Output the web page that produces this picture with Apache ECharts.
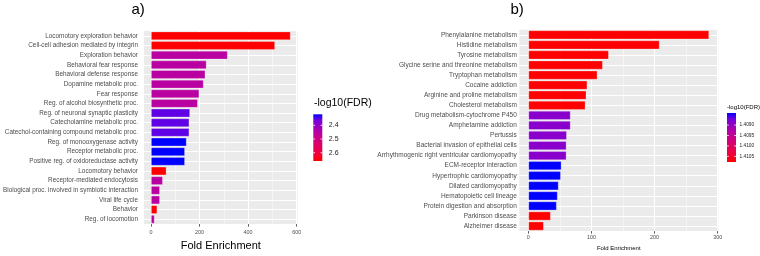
<!DOCTYPE html>
<html>
<head>
<meta charset="utf-8">
<script src="https://cdn.jsdelivr.net/npm/echarts@6/dist/echarts.min.js"></script>
<style>
  html, body { margin: 0; padding: 0; background: #fff; }
  #myChart { width: 760px; height: 256px; }
</style>
</head>
<body>
<div id="myChart"></div>
<script>
// a) GO terms
var goTerms = [
  "Locomotory exploration behavior",
  "Cell-cell adhesion mediated by integrin",
  "Exploration behavior",
  "Behavioral fear response",
  "Behavioral defense response",
  "Dopamine metabolic proc.",
  "Fear response",
  "Reg. of alcohol biosynthetic proc.",
  "Reg. of neuronal synaptic plasticity",
  "Catecholamine metabolic proc.",
  "Catechol-containing compound metabolic proc.",
  "Reg. of monooxygenase activity",
  "Receptor metabolic proc.",
  "Positive reg. of oxidoreductase activity",
  "Locomotory behavior",
  "Receptor-mediated endocytosis",
  "Biological proc. involved in symbiotic interaction",
  "Viral life cycle",
  "Behavior",
  "Reg. of locomotion"
];
var goFold = [575, 511, 316, 229, 224, 217, 199, 193, 161, 158, 158, 147, 140, 140, 64, 49, 37, 37, 26, 15];
var goFdr = [2.66, 2.66, 2.455, 2.455, 2.455, 2.455, 2.455, 2.455, 2.355, 2.355, 2.355,
             2.32, 2.32, 2.32, 2.66, 2.455, 2.455, 2.455, 2.66, 2.455];
var goTicks = [0, 200, 400, 600];
var goLegendTicks = [2.4, 2.5, 2.6];

// b) KEGG pathways
var keggTerms = [
  "Phenylalanine metabolism",
  "Histidine metabolism",
  "Tyrosine metabolism",
  "Glycine serine and threonine metabolism",
  "Tryptophan metabolism",
  "Cocaine addiction",
  "Arginine and proline metabolism",
  "Cholesterol metabolism",
  "Drug metabolism-cytochrome P450",
  "Amphetamine addiction",
  "Pertussis",
  "Bacterial invasion of epithelial cells",
  "Arrhythmogenic right ventricular cardiomyopathy",
  "ECM-receptor interaction",
  "Hypertrophic cardiomyopathy",
  "Dilated cardiomyopathy",
  "Hematopoietic cell lineage",
  "Protein digestion and absorption",
  "Parkinson disease",
  "Alzheimer disease"
];
var keggFold = [286.5, 208, 127.5, 118, 109.5, 93.5, 92, 90.5, 67, 67, 61, 60.5, 60.5, 52.5, 51.5, 48, 46.5, 45, 35.5, 24.5];
var keggFdr = [1.41077, 1.41077, 1.41077, 1.41077, 1.41077, 1.41077, 1.41077, 1.41077,
               1.40889, 1.40889, 1.40889, 1.40889, 1.40889,
               1.40842, 1.40842, 1.40842, 1.40842, 1.40842, 1.41077, 1.41077];
var keggTicks = [0, 100, 200, 300];
var keggLegendTicks = [1.409, 1.4095, 1.41, 1.4105];

// blue -> red, interpolated like ggplot (Lab)
var gradStops = ["#0000FF", "#7300E0", "#9700C0", "#B500A5", "#CA0089", "#DA006C", "#E8004F", "#F40031", "#FF0000"];
var fontFamily = "Liberation Sans";

function maxOf(arr) { return Math.max.apply(null, arr); }
function minOf(arr) { return Math.min.apply(null, arr); }

function colorBar(x, top, w, h, lo, hi, ticks, digits, fs, gap) {
  var els = [{
    type: "rect",
    shape: { x: x, y: top, width: w, height: h },
    style: {
      fill: new echarts.graphic.LinearGradient(0, 0, 0, 1, gradStops.map(function (c, i) {
        return { offset: i / (gradStops.length - 1), color: c };
      }))
    }
  }];
  ticks.forEach(function (t) {
    var y = top + (t - lo) / (hi - lo) * h;
    els.push({ type: "line", shape: { x1: x, y1: y, x2: x + w * 0.2, y2: y }, style: { stroke: "#fff", lineWidth: 0.8 } });
    els.push({ type: "line", shape: { x1: x + w * 0.8, y1: y, x2: x + w, y2: y }, style: { stroke: "#fff", lineWidth: 0.8 } });
    els.push({
      type: "text", x: x + w + gap, y: y,
      style: { text: t.toFixed(digits), fill: "#222", fontSize: fs, fontFamily: fontFamily, verticalAlign: "middle" }
    });
  });
  return els;
}

// white horizontal grid lines through the category centres, kept under the bars
function gridLines(xi, terms) {
  return {
    type: "line", xAxisIndex: xi, yAxisIndex: xi, data: [], z: 1, silent: true,
    markLine: {
      z: 1, silent: true, symbol: "none", animation: false,
      label: { show: false },
      lineStyle: { color: "#fff", width: 1, type: "solid" },
      data: terms.map(function (t) { return { yAxis: t }; })
    }
  };
}

function barSeries(xi, terms, fold, fdr) {
  return {
    type: "bar", xAxisIndex: xi, yAxisIndex: xi, z: 6, barWidth: "90%",
    encode: { x: 0, y: 1 },
    data: terms.map(function (t, i) { return [fold[i], t, fdr[i]]; }),
    itemStyle: { borderColor: "rgba(255,255,255,0.35)", borderWidth: 0.8 }
  };
}

function valueAxis(gi, fold, ticks, step, labelSize, labelMargin, name, nameSize, nameGap) {
  var m = maxOf(fold);
  return {
    gridIndex: gi, type: "value",
    min: -0.05 * m, max: 1.05 * m,
    splitNumber: 3, minInterval: step, maxInterval: step,
    axisLine: { show: false },
    axisTick: { show: true, length: 2.5, customValues: ticks, lineStyle: { color: "#333", width: 0.8 } },
    axisLabel: { customValues: ticks, color: "#4D4D4D", fontSize: labelSize, margin: labelMargin },
    splitLine: { show: true, lineStyle: { color: "#fff", width: 1.1 } },
    minorTick: { show: false, splitNumber: 2 },
    minorSplitLine: { show: true, lineStyle: { color: "#fff", width: 0.5 } },
    name: name, nameLocation: "middle", nameGap: nameGap,
    nameTextStyle: { color: "#000", fontSize: nameSize }
  };
}

function catAxis(gi, terms, fs, margin, tickLen) {
  return {
    gridIndex: gi, type: "category", data: terms, inverse: true,
    axisLine: { show: false },
    axisTick: { show: true, alignWithLabel: true, interval: 0, length: tickLen, lineStyle: { color: "#333", width: 0.8 } },
    axisLabel: { interval: 0, color: "#4D4D4D", fontSize: fs, margin: margin },
    splitLine: { show: false }
  };
}

var myChart = echarts.init(document.getElementById("myChart"));
var option = {
  animation: false,
  backgroundColor: "#fff",
  textStyle: { fontFamily: fontFamily },
  grid: [
    { left: 143, top: 31, width: 154.6, height: 196, show: true, backgroundColor: "#EBEBEB", borderWidth: 0 },
    { left: 519.3, top: 29.8, width: 198.9, height: 207.6, show: true, backgroundColor: "#EBEBEB", borderWidth: 0 }
  ],
  xAxis: [
    valueAxis(0, goFold, goTicks, 200, 5.4, 6, "Fold Enrichment", 11, 15),
    valueAxis(1, keggFold, keggTicks, 100, 5.4, 4, "Fold Enrichment", 6, 11)
  ],
  yAxis: [
    catAxis(0, goTerms, 6.4, 6, 2.5),
    catAxis(1, keggTerms, 6.5, 2.5, 1.5)
  ],
  visualMap: [
    { type: "continuous", show: false, seriesIndex: 1, dimension: 2, min: minOf(goFdr), max: maxOf(goFdr), inRange: { color: gradStops } },
    { type: "continuous", show: false, seriesIndex: 3, dimension: 2, min: minOf(keggFdr), max: maxOf(keggFdr), inRange: { color: gradStops } }
  ],
  series: [
    gridLines(0, goTerms),
    barSeries(0, goTerms, goFold, goFdr),
    gridLines(1, keggTerms),
    barSeries(1, keggTerms, keggFold, keggFdr)
  ],
  graphic: [
    { type: "text", x: 131.5, y: 9.5, style: { text: "a)", fill: "#000", fontSize: 15, fontFamily: fontFamily, verticalAlign: "middle" } },
    { type: "text", x: 510.5, y: 9.5, style: { text: "b)", fill: "#000", fontSize: 15, fontFamily: fontFamily, verticalAlign: "middle" } },
    { type: "text", x: 314, y: 103.5, style: { text: "-log10(FDR)", fill: "#000", fontSize: 10.5, fontFamily: fontFamily, verticalAlign: "middle" } },
    { type: "text", x: 727, y: 107, style: { text: "-log10(FDR)", fill: "#000", fontSize: 6, fontFamily: fontFamily, verticalAlign: "middle" } }
  ]
    .concat(colorBar(313.3, 114.3, 9, 46.7, minOf(goFdr), maxOf(goFdr), goLegendTicks, 1, 7, 6.5))
    .concat(colorBar(727, 113, 9, 49, minOf(keggFdr), maxOf(keggFdr), keggLegendTicks, 4, 4.8, 3.5))
};
myChart.setOption(option);
</script>
</body>
</html>
